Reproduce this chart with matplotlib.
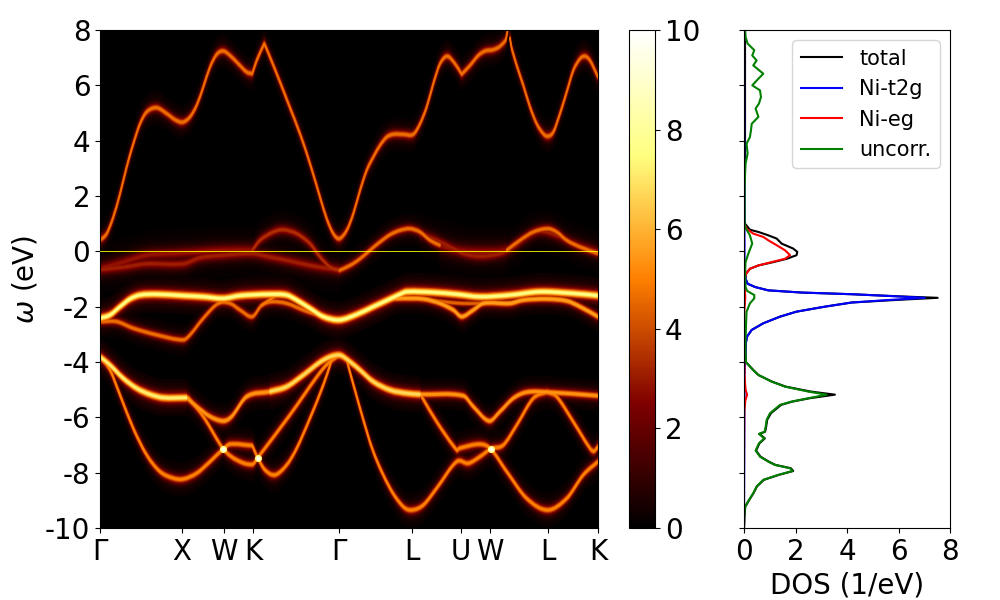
import numpy as np
import matplotlib
matplotlib.use('Agg')
import matplotlib.pyplot as plt
from matplotlib.path import Path
from matplotlib.patches import PathPatch

# k path positions of the high symmetry points
k_ticks = [0, 82, 124, 153, 239, 312, 361, 390, 448, 498]
k_labels = ['Γ', 'X', 'W', 'K', 'Γ', 'L', 'U', 'W', 'L', 'K']

# bands: k, omega
a1_k = [0, 6.7, 13.3, 20, 26.7, 33.3, 40, 46.7, 56.7, 66.7, 75, 82.7, 90, 96.7, 103.3, 110, 116.7, 123.3, 130, 138.3, 146.7, 152.3, 156.7, 164.3, 170, 180, 190, 200, 210, 220, 226.7, 233.3, 239.3, 246.7, 253.3, 260, 266.7, 273.3, 280, 286.7, 293.3, 303.3, 313.3, 320, 326.7, 333.3, 340, 347.3, 355, 361.7, 370, 378.3, 385, 393.3, 400, 405.7, 407.7]
a1_w = [0.40, 0.64, 1.24, 2.08, 3.05, 3.89, 4.61, 5.04, 5.19, 4.98, 4.76, 4.67, 4.86, 5.28, 5.94, 6.66, 7.12, 7.24, 7.08, 6.78, 6.48, 6.42, 6.90, 7.51, 7.02, 6.12, 5.19, 4.25, 3.17, 1.96, 1.18, 0.64, 0.46, 0.76, 1.36, 2.2, 2.93, 3.41, 3.83, 4.13, 4.23, 4.23, 4.23, 4.61, 5.22, 6.06, 6.78, 7.05, 6.78, 6.40, 6.72, 7.08, 7.24, 7.29, 7.41, 7.63, 8.0]
a2_k = [410, 411.7, 416.7, 423.3, 430, 436.7, 443.3, 447.7, 453.3, 460, 466.7, 473.3, 480, 485, 490, 498]
a2_w = [7.69, 7.33, 6.72, 6.0, 5.22, 4.61, 4.25, 4.16, 4.31, 4.98, 5.76, 6.54, 6.96, 7.05, 6.90, 6.30]

b1a_k = [0, 23.3, 46.7, 73.3, 100, 123.3, 152.3]
b1a_w = [-0.63, -0.39, -0.14, -0.08, -0.02, 0.04, 0.04]
b1b_k = [152.3, 160, 173.3, 183.3, 196.7, 210, 220, 230, 239.3]
b1b_w = [0.04, 0.40, 0.70, 0.78, 0.64, 0.28, -0.20, -0.57, -0.69]
b1c_k = [239.3, 250, 260, 270, 280, 290, 300, 310, 320, 330, 340]
b1c_w = [-0.69, -0.51, -0.27, 0.04, 0.34, 0.60, 0.76, 0.82, 0.70, 0.40, 0.22]
b1d_k = [340, 356.7, 373.3, 396.7, 406.7]
b1d_w = [0.22, 0.04, -0.02, -0.02, 0.04]
b1e_k = [406.7, 420, 433.3, 447.7, 456.7, 466.7, 480, 498]
b1e_w = [0.04, 0.40, 0.70, 0.82, 0.70, 0.40, 0.16, -0.08]
b2_k = [320, 336.7, 353.3, 363.3, 380, 400, 413.3, 426.7, 440, 456.7, 473.3, 498]
b2_w = [0.64, 0.40, 0.10, -0.08, -0.18, -0.08, 0.16, 0.52, 0.73, 0.58, 0.28, -0.02]
b3_k = [0, 23.3, 46.7, 83.3, 100, 123.3, 152.3, 166.7, 190, 210, 223.3, 239.3]
b3_w = [-0.66, -0.57, -0.45, -0.45, -0.23, -0.14, -0.08, -0.18, -0.35, -0.51, -0.59, -0.66]

c1_k = [0, 10, 20, 30, 40, 56.7, 83.3, 103.3, 123.3, 140, 170, 186.7, 196.7, 210, 223.3, 239.3, 256.7, 273.3, 290, 300, 306.7, 333.3, 356.7, 380, 410, 440, 473.3, 498]
c1_w = [-2.42, -2.30, -2.0, -1.72, -1.58, -1.55, -1.60, -1.64, -1.70, -1.60, -1.55, -1.58, -1.76, -2.06, -2.36, -2.48, -2.28, -2.0, -1.72, -1.55, -1.46, -1.48, -1.55, -1.64, -1.58, -1.46, -1.52, -1.60]
c2_k = [290, 300, 323.3, 340, 353.3, 361.7, 373.3, 383.3, 410, 423.3, 446.7, 466.7, 480, 498]
c2_w = [-1.72, -1.70, -1.72, -1.88, -2.12, -2.36, -2.12, -1.88, -1.88, -1.76, -1.72, -1.79, -2.0, -2.36]
c3_k = [323.3, 343.3, 361.7, 383.3]
c3_w = [-1.72, -1.82, -1.88, -1.88]
d_k = [0, 16.7, 33.3, 56.7, 83.3, 90, 103.3, 118.3, 130, 140, 152.3, 161.7, 171.7, 186.7, 203.3, 223.3, 239.3]
d_w = [-2.54, -2.54, -2.78, -3.02, -3.2, -3.02, -2.42, -1.88, -1.88, -2.12, -2.36, -1.95, -1.82, -1.88, -2.12, -2.36, -2.48]
e1_k = [118.3, 133.3]
e1_w = [-1.88, -1.64]
e2_k = [161.7, 176.7]
e2_w = [-1.95, -1.58]

g1_k = [0, 10, 23.3, 36.7, 50, 63.3, 86.7]
g1_w = [-3.81, -4.11, -4.59, -4.95, -5.17, -5.29, -5.29]
g2_k = [86.7, 96.7, 110, 123.3, 131.7, 146.7, 170]
g2_w = [-5.29, -5.61, -5.97, -6.13, -5.97, -5.25, -5.07]
g3_k = [170, 186.7, 203.3, 223.3, 239.3, 250, 260, 273.3, 290, 306.7, 320]
g3_w = [-5.07, -4.89, -4.47, -3.93, -3.75, -3.99, -4.29, -4.71, -5.01, -5.13, -5.17]
g4_k = [320, 363.3, 373.3, 389, 400, 413.3, 426.7, 447.7, 498]
g4_w = [-5.17, -5.22, -5.61, -6.13, -5.79, -5.31, -5.09, -5.09, -5.22]

h_k = [0, 10, 20, 33.3, 46.7, 60, 73.3, 83.3, 96.7, 110, 123.3, 130, 152.3, 157.7, 165, 175, 186.7, 196.7, 210, 223.3, 231.7, 239.3]
h_w = [-3.81, -4.29, -5.19, -6.40, -7.36, -7.96, -8.2, -8.23, -8.02, -7.6, -7.14, -6.97, -7.02, -7.46, -7.9, -8.08, -7.72, -7.12, -6.03, -4.83, -3.93, -3.75]
i_k = [88.3, 103.3, 123.3, 136.7, 152.3, 157.7, 190, 223.3, 238.3]
i_w = [-5.29, -5.97, -7.14, -7.54, -7.70, -7.46, -5.91, -4.23, -3.75]
j_k = [246.7, 260, 273.3, 290, 303.3, 311.7, 323.3, 336.7, 356.7, 368.3, 380, 390.7, 403.3, 416.7, 433.3, 447.7]
j_w = [-3.93, -5.67, -7.24, -8.56, -9.23, -9.35, -9.17, -8.56, -7.6, -7.66, -7.42, -7.14, -7.0, -6.28, -5.31, -5.07]
l_k = [321.7, 336.7, 356.7, 359.3, 380, 390.7, 406.7, 426.7, 447.7, 466.7, 483.3, 498]
l_w = [-5.25, -6.16, -7.18, -7.12, -6.97, -7.14, -7.96, -8.93, -9.35, -8.93, -8.08, -7.6]
m_k = [447.7, 456.7, 473.3, 490, 494, 498]
m_w = [-5.09, -5.25, -6.16, -7.12, -7.22, -7.06]

# band crossings that show up nearly white
spot_k = [123.3, 157.7, 390.7]
spot_w = [-7.14, -7.46, -7.14]

# DOS curves
total_w = [8, 3.17, 2.33, 1.12, 1.0, 0.78, 0.70, 0.58, 0.46, 0.28, 0.10, -0.02, -0.14, -0.27, -0.39, -0.51, -0.63, -0.81, -0.99, -1.17, -1.29, -1.41, -1.49, -1.55, -1.63, -1.68, -1.76, -1.85, -2.0, -2.18, -2.36, -2.6, -2.84, -3.08, -3.32, -3.7, -4.01, -4.29, -4.47, -4.71, -4.89, -5.07, -5.18, -5.31, -5.43, -5.55, -5.85, -6.09, -6.34, -6.52, -6.6, -6.76, -6.94, -7.2, -7.42, -7.6, -7.72, -7.84, -7.94, -8.08, -8.26, -8.5, -8.74, -8.99, -9.23, -9.59, -10]
total_d = [0.04, 0.04, 0.02, 0.02, 0.04, 0.23, 0.56, 0.94, 1.27, 1.46, 1.91, 2.07, 2.04, 1.66, 1.14, 0.56, 0.23, 0.08, 0.06, 0.14, 0.43, 0.94, 2.24, 4.18, 6.12, 7.52, 5.86, 4.18, 3.14, 2.04, 1.40, 0.75, 0.30, 0.12, 0.07, 0.06, 0.08, 0.36, 0.56, 1.09, 1.62, 2.6, 3.53, 2.55, 1.88, 1.44, 1.05, 0.90, 0.86, 0.82, 0.60, 0.81, 0.60, 0.47, 0.64, 0.96, 1.22, 1.82, 1.91, 1.35, 0.77, 0.50, 0.37, 0.20, 0.05, 0.02, 0]

t2g_w = [8, 0, -0.5, -0.81, -0.99, -1.17, -1.29, -1.41, -1.49, -1.55, -1.63, -1.68, -1.76, -1.85, -2.0, -2.18, -2.36, -2.6, -2.84, -3.08, -3.32, -3.7, -4.5, -10]
t2g_d = [0, 0.02, 0.02, 0.06, 0.06, 0.14, 0.43, 0.94, 2.24, 4.18, 6.0, 7.02, 5.6, 4.18, 3.14, 2.04, 1.40, 0.75, 0.30, 0.12, 0.07, 0.05, 0.02, 0]

eg_w = [8, 1.0, 0.82, 0.64, 0.52, 0.40, 0.22, 0.04, -0.14, -0.27, -0.39, -0.51, -0.63, -0.81, -1.05, -1.66, -2.2, -4.5, -5.0, -5.18, -5.4, -5.8, -8, -10]
eg_d = [0, 0, 0.1, 0.36, 0.75, 0.94, 1.27, 1.59, 1.79, 1.59, 1.07, 0.56, 0.23, 0.08, 0.01, 0.05, 0.01, 0.02, 0.06, 0.12, 0.05, 0.01, 0, 0]

uncorr_w = [8, 7.75, 7.51, 7.27, 7.08, 6.90, 6.72, 6.42, 6.24, 6.0, 5.82, 5.58, 5.34, 5.16, 4.86, 4.61, 4.37, 4.13, 3.89, 3.53, 3.17, 2.33, 1.12, 0.88, 0.58, 0.28, -0.08, -0.39, -0.81, -1.29, -1.43, -1.58, -1.70, -1.88, -2.18, -2.6, -3.2, -3.68, -4.01, -4.29, -4.47, -4.71, -4.89, -5.07, -5.18, -5.31, -5.43, -5.55, -5.85, -6.09, -6.34, -6.52, -6.6, -6.76, -6.94, -7.2, -7.42, -7.6, -7.72, -7.84, -7.94, -8.08, -8.26, -8.5, -8.74, -8.99, -9.23, -9.59, -10]
uncorr_d = [0.04, 0.06, 0.14, 0.40, 0.32, 0.49, 0.36, 0.75, 0.56, 0.32, 0.62, 0.66, 0.58, 0.45, 0.56, 0.30, 0.27, 0.23, 0.10, 0.14, 0.06, 0.02, 0.02, 0.04, 0.23, 0.32, 0.17, 0.06, 0.04, 0.06, 0.12, 0.40, 0.40, 0.23, 0.10, 0.08, 0.06, 0.05, 0.08, 0.36, 0.56, 1.07, 1.59, 2.5, 3.21, 2.5, 1.85, 1.40, 1.01, 0.88, 0.84, 0.80, 0.58, 0.79, 0.58, 0.45, 0.62, 0.94, 1.2, 1.79, 1.88, 1.33, 0.75, 0.49, 0.36, 0.19, 0.04, 0.01, 0]

# k, omega, peak height, half width in eV
bands = [
    (a1_k, a1_w, 4.8, 0.12), (a2_k, a2_w, 4.8, 0.12),
    (b1a_k, b1a_w, 3.0, 0.18), (b1b_k, b1b_w, 3.5, 0.14), (b1c_k, b1c_w, 4.8, 0.11),
    (b1d_k, b1d_w, 3.0, 0.2), (b1e_k, b1e_w, 4.8, 0.11),
    (b2_k, b2_w, 3.2, 0.15), (b3_k, b3_w, 3.2, 0.16),
    (c1_k, c1_w, 7.8, 0.13), (c2_k, c2_w, 5.8, 0.11), (c3_k, c3_w, 4.6, 0.09),
    (d_k, d_w, 4.8, 0.11), (e1_k, e1_w, 5.0, 0.09), (e2_k, e2_w, 5.0, 0.09),
    (g1_k, g1_w, 7.4, 0.13), (g2_k, g2_w, 5.6, 0.12), (g3_k, g3_w, 7.0, 0.13), (g4_k, g4_w, 5.6, 0.11),
    (h_k, h_w, 5.2, 0.12), (i_k, i_w, 5.2, 0.12), (j_k, j_w, 5.2, 0.12),
    (l_k, l_w, 5.2, 0.12), (m_k, m_w, 5.2, 0.12),
]


def band_curve(k, w):
    # bezier control points through the read values, corners stay sharp
    k = np.array(k, dtype=float)
    w = np.array(w, dtype=float)
    h = np.diff(k)
    s = np.diff(w) / h
    right = np.append(s, s[-1])
    left = np.insert(s, 0, s[0])
    for i in range(1, len(k) - 1):
        if abs(s[i] - s[i - 1]) < 0.075:
            left[i] = right[i] = (w[i + 1] - w[i - 1]) / (k[i + 1] - k[i - 1])
    pts = [[k[0], w[0]]]
    for i in range(len(h)):
        pts.append([k[i] + h[i] / 3, w[i] + right[i] * h[i] / 3])
        pts.append([k[i + 1] - h[i] / 3, w[i + 1] - left[i + 1] * h[i] / 3])
        pts.append([k[i + 1], w[i + 1]])
    return np.array(pts)


def band_patch(k, w, d, color):
    # strip of half height d in omega around the band
    pts = band_curve(k, w)
    top = pts + [0, d]
    bottom = pts[::-1] - [0, d]
    verts = np.vstack([top, bottom, top[:1]])
    n = len(pts) - 1
    codes = [Path.MOVETO] + [Path.CURVE4] * n + [Path.LINETO] + [Path.CURVE4] * n + [Path.CLOSEPOLY]
    return PathPatch(Path(verts, codes), facecolor=color, edgecolor=color, lw=0.8)


cmap = plt.get_cmap('afmhot')

fig = plt.figure(figsize=(10, 6), dpi=100)
ax = fig.add_axes([0.1, 0.12, 0.498, 0.83])
cax = fig.add_axes([0.629, 0.12, 0.026, 0.83])
dax = fig.add_axes([0.744, 0.12, 0.206, 0.83])

# Lorentzian profile of every band, built from stacked strips, faintest first
ax.set_facecolor('black')
steps = [0.2, 0.4, 0.6, 0.8, 1.0, 1.3, 1.6, 2.0, 2.5, 3.2, 4.0, 5.0]
draws = []
for k, w, peak, gamma in bands:
    for f in steps:
        draws.append((peak / (1 + f ** 2), f * gamma, k, w))
draws.sort(key=lambda x: x[0])
for value, d, k, w in draws:
    ax.add_patch(band_patch(k, w, d, cmap(value / 10)))
ax.scatter(spot_k, spot_w, s=26, color=cmap(0.75), linewidths=0, zorder=5)
ax.scatter(spot_k, spot_w, s=9, color=cmap(0.95), linewidths=0, zorder=6)
ax.plot([k_ticks[0], k_ticks[-1]], [0, 0], color='yellow', lw=0.6, zorder=7)

ax.set_xlim(k_ticks[0], k_ticks[-1])
ax.set_ylim(-10, 8)
ax.set_xticks(k_ticks)
ax.set_xticklabels(k_labels)
ax.set_yticks(np.arange(-10, 9, 2))
ax.set_yticklabels(['-10', '-8', '-6', '-4', '-2', '0', '2', '4', '6', '8'])
ax.tick_params(labelsize=20)
ax.set_ylabel(r'$\omega$ (eV)', fontsize=20)

sm = plt.cm.ScalarMappable(cmap=cmap, norm=plt.Normalize(0, 10))
cb = fig.colorbar(sm, cax=cax)
cb.set_ticks([0, 2, 4, 6, 8, 10])
cb.ax.tick_params(labelsize=20)

dax.plot(total_d, total_w, color='k', label='total')
dax.plot(t2g_d, t2g_w, color='b', label='Ni-t2g')
dax.plot(eg_d, eg_w, color='r', label='Ni-eg')
dax.plot(uncorr_d, uncorr_w, color='g', label='uncorr.')
dax.set_xlim(0, 8)
dax.set_ylim(-10, 8)
dax.set_xticks([0, 2, 4, 6, 8])
dax.set_yticks(np.arange(-10, 9, 2))
dax.set_yticklabels([])
dax.tick_params(axis='x', labelsize=20)
dax.set_xlabel('DOS (1/eV)', fontsize=20)
dax.legend(loc='upper right', fontsize=15)

fig.savefig('out.png', dpi=100)
